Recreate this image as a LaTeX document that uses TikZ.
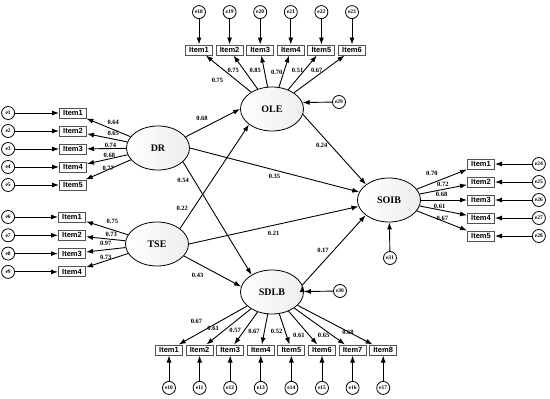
\documentclass[tikz,border=0pt]{standalone}
\usepackage{fontspec}
\setmainfont{Liberation Serif}
\setsansfont{Liberation Sans}
\usetikzlibrary{arrows.meta, positioning, shapes.geometric}

\tikzset{
	latent/.style={ellipse, draw, line width=0.8pt, minimum width=63pt, minimum height=44pt, inner sep=0pt,
		left color=white, right color=blue!6!gray!13, font=\bfseries\fontsize{10}{12}\selectfont},
	item/.style={rectangle, draw=gray!65!black, line width=1pt, fill=white, minimum width=27pt,
		minimum height=10pt, inner sep=0pt, font=\sffamily\bfseries\fontsize{7.5}{8}\selectfont},
	err/.style={circle, draw, line width=0.8pt, fill=white, minimum size=13pt, inner sep=0pt,
		font=\bfseries\fontsize{5.5}{6}\selectfont},
	load/.style={font=\bfseries\fontsize{6.5}{7}\selectfont, inner sep=0.5pt},
}

\begin{document}
\begin{tikzpicture}[x=1pt, y=-1pt, >={Latex[length=7pt, width=5pt]}, line width=0.9pt]
	\useasboundingbox (0,0) rectangle (550,399);

	% latent variables
	\node[latent] (OLE) at (272,109) {OLE};
	\node[latent] (DR) at (158,148) {DR};
	\node[latent] (TSE) at (157,244) {TSE};
	\node[latent] (SOIB) at (389,200) {SOIB};
	\node[latent] (SDLB) at (272,292) {SDLB};

	% OLE indicators
	\node[item] (o1) at (199,50) {Item1};
	\node[item, right=2.6pt of o1] (o2) {Item2};
	\node[item, right=2.6pt of o2] (o3) {Item3};
	\node[item, right=2.6pt of o3] (o4) {Item4};
	\node[item, right=2.6pt of o4] (o5) {Item5};
	\node[item, right=2.6pt of o5] (o6) {Item6};
	\node[err, above=25.5pt of o1] (e18) {e18};
	\node[err, above=25.5pt of o2] (e19) {e19};
	\node[err, above=25.5pt of o3] (e20) {e20};
	\node[err, above=25.5pt of o4] (e21) {e21};
	\node[err, above=25.5pt of o5] (e22) {e22};
	\node[err, above=25.5pt of o6] (e23) {e23};

	% DR indicators
	\node[item] (d1) at (73,113) {Item1};
	\node[item, below=7pt of d1] (d2) {Item2};
	\node[item, below=7pt of d2] (d3) {Item3};
	\node[item, below=7pt of d3] (d4) {Item4};
	\node[item, below=7pt of d4] (d5) {Item5};
	\node[err, left=44pt of d1] (e1) {e1};
	\node[err, left=44pt of d2] (e2) {e2};
	\node[err, left=44pt of d3] (e3) {e3};
	\node[err, left=44pt of d4] (e4) {e4};
	\node[err, left=44pt of d5] (e5) {e5};

	% TSE indicators
	\node[item] (t1) at (72,217) {Item1};
	\node[item, below=7.3pt of t1] (t2) {Item2};
	\node[item, below=7.3pt of t2] (t3) {Item3};
	\node[item, below=7.3pt of t3] (t4) {Item4};
	\node[err, left=43pt of t1] (e6) {e6};
	\node[err, left=43pt of t2] (e7) {e7};
	\node[err, left=43pt of t3] (e8) {e8};
	\node[err, left=43pt of t4] (e9) {e9};

	% SOIB indicators
	\node[item] (s1) at (481,164) {Item1};
	\node[item, below=7pt of s1] (s2) {Item2};
	\node[item, below=7pt of s2] (s3) {Item3};
	\node[item, below=7pt of s3] (s4) {Item4};
	\node[item, below=7pt of s4] (s5) {Item5};
	\node[err, right=37pt of s1] (e24) {e24};
	\node[err, right=37pt of s2] (e25) {e25};
	\node[err, right=37pt of s3] (e26) {e26};
	\node[err, right=37pt of s4] (e27) {e27};
	\node[err, right=37pt of s5] (e28) {e28};

	% SDLB indicators
	\node[item] (l1) at (169,350) {Item1};
	\node[item, right=2.6pt of l1] (l2) {Item2};
	\node[item, right=2.6pt of l2] (l3) {Item3};
	\node[item, right=2.6pt of l3] (l4) {Item4};
	\node[item, right=2.6pt of l4] (l5) {Item5};
	\node[item, right=2.6pt of l5] (l6) {Item6};
	\node[item, right=2.6pt of l6] (l7) {Item7};
	\node[item, right=2.6pt of l7] (l8) {Item8};
	\node[err, below=25.5pt of l1] (e10) {e10};
	\node[err, below=25.5pt of l2] (e11) {e11};
	\node[err, below=25.5pt of l3] (e12) {e12};
	\node[err, below=25.5pt of l4] (e13) {e13};
	\node[err, below=25.5pt of l5] (e14) {e14};
	\node[err, below=25.5pt of l6] (e15) {e15};
	\node[err, below=25.5pt of l7] (e16) {e16};
	\node[err, below=25.5pt of l8] (e17) {e17};

	% residuals of the endogenous factors
	\node[err] (e29) at (339,102) {e29};
	\node[err] (e30) at (340,291) {e30};
	\node[err] (e31) at (390,258) {e31};

	% error terms
	\draw[->]
	(e1) edge (d1) (e2) edge (d2) (e3) edge (d3) (e4) edge (d4) (e5) edge (d5)
	(e6) edge (t1) (e7) edge (t2) (e8) edge (t3) (e9) edge (t4)
	(e10) edge (l1) (e11) edge (l2) (e12) edge (l3) (e13) edge (l4)
	(e14) edge (l5) (e15) edge (l6) (e16) edge (l7) (e17) edge (l8)
	(e18) edge (o1) (e19) edge (o2) (e20) edge (o3)
	(e21) edge (o4) (e22) edge (o5) (e23) edge (o6)
	(e24) edge (s1) (e25) edge (s2) (e26) edge (s3) (e27) edge (s4) (e28) edge (s5)
	(e29) edge (OLE.12) (e30) edge (SDLB) (e31) edge (SOIB);

	% loadings
	\draw[->]
	(OLE) edge node[load, pos=.33, left=12pt] {0.75} (o1)
	(OLE) edge node[load, pos=.56, left=4.3pt] {0.75} (o2)
	(OLE) edge node[load, pos=.53, left=2.3pt] {0.85} (o3)
	(OLE) edge node[load, pos=.47, left=0.3pt] {0.70} (o4)
	(OLE) edge node[load, pos=.56, left=0pt] {0.51} (o5)
	(OLE) edge node[load, pos=.6, left=1pt] {0.67} (o6)
	(DR) edge node[load, pos=.39, above=4.4pt] {0.64} (d1)
	(DR) edge node[load, pos=.35, above=2.4pt] {0.65} (d2)
	(DR) edge node[load, pos=.4, above=0.4pt] {0.74} (d3)
	(DR) edge node[load, pos=.45, above=0.4pt] {0.68} (d4)
	(DR) edge node[load, pos=.5, above=-1.6pt] {0.77} (d5)
	(TSE) edge node[load, pos=.37, above=5.1pt] {0.75} (t1)
	(TSE) edge node[load, pos=.36, above=2.1pt] {0.73} (t2)
	(TSE) edge node[load, pos=.5, above=3pt] {0.97} (t3)
	(TSE) edge node[load, pos=.53, above=0.4pt] {0.73} (t4)
	(SOIB) edge node[load, pos=.3, above=6.4pt] {0.70} (s1)
	(SOIB) edge node[load, pos=.49, above=2.4pt] {0.72} (s2)
	(SOIB) edge node[load, pos=.45, above=2.2pt] {0.68} (s3)
	(SOIB) edge node[load, pos=.42, above=0.7pt] {0.61} (s4)
	(SOIB) edge node[load, pos=.51, above=-0.8pt] {0.67} (s5)
	(SDLB) edge node[load, pos=.74, above=10pt] {0.67} (l1)
	(SDLB) edge node[load, pos=.85, above=8pt] {0.61} (l2)
	(SDLB) edge node[load, pos=.58, left=2.3pt] {0.57} (l3)
	(SDLB) edge node[load, pos=.58, left=3.7pt] {0.67} (l4)
	(SDLB) edge node[load, pos=.58, left=2pt] {0.52} (l5)
	(SDLB) edge node[load, pos=.73, left=4pt] {0.61} (l6)
	(SDLB) edge node[load, pos=.75, left=2pt] {0.65} (l7)
	(SDLB) edge node[load, pos=.76, above left=0pt] {0.68} (l8);

	% structural paths
	\draw[->]
	(DR.22) edge node[load, pos=.3, above=7.4pt] {0.68} (OLE.west)
	(DR.east) edge node[load, pos=.5, below=3.4pt] {0.35} (SOIB.165)
	(DR.-29) edge node[load, pos=.16, left=4.2pt] {0.54} (SDLB.140)
	(TSE.34) edge node[load, pos=.19, left=4.2pt] {0.22} (OLE.214)
	(TSE.east) edge node[load, pos=.5, below=5.4pt] {0.21} (SOIB.192)
	(TSE.-24) edge node[load, pos=.24, below=9pt] {0.43} (SDLB.170)
	(OLE.-10) edge node[load, pos=.44, left=2.3pt] {0.24} (SOIB.146)
	(SDLB.13) edge node[load, pos=.5, left=4.3pt] {0.17} (SOIB.213);
\end{tikzpicture}
\end{document}
